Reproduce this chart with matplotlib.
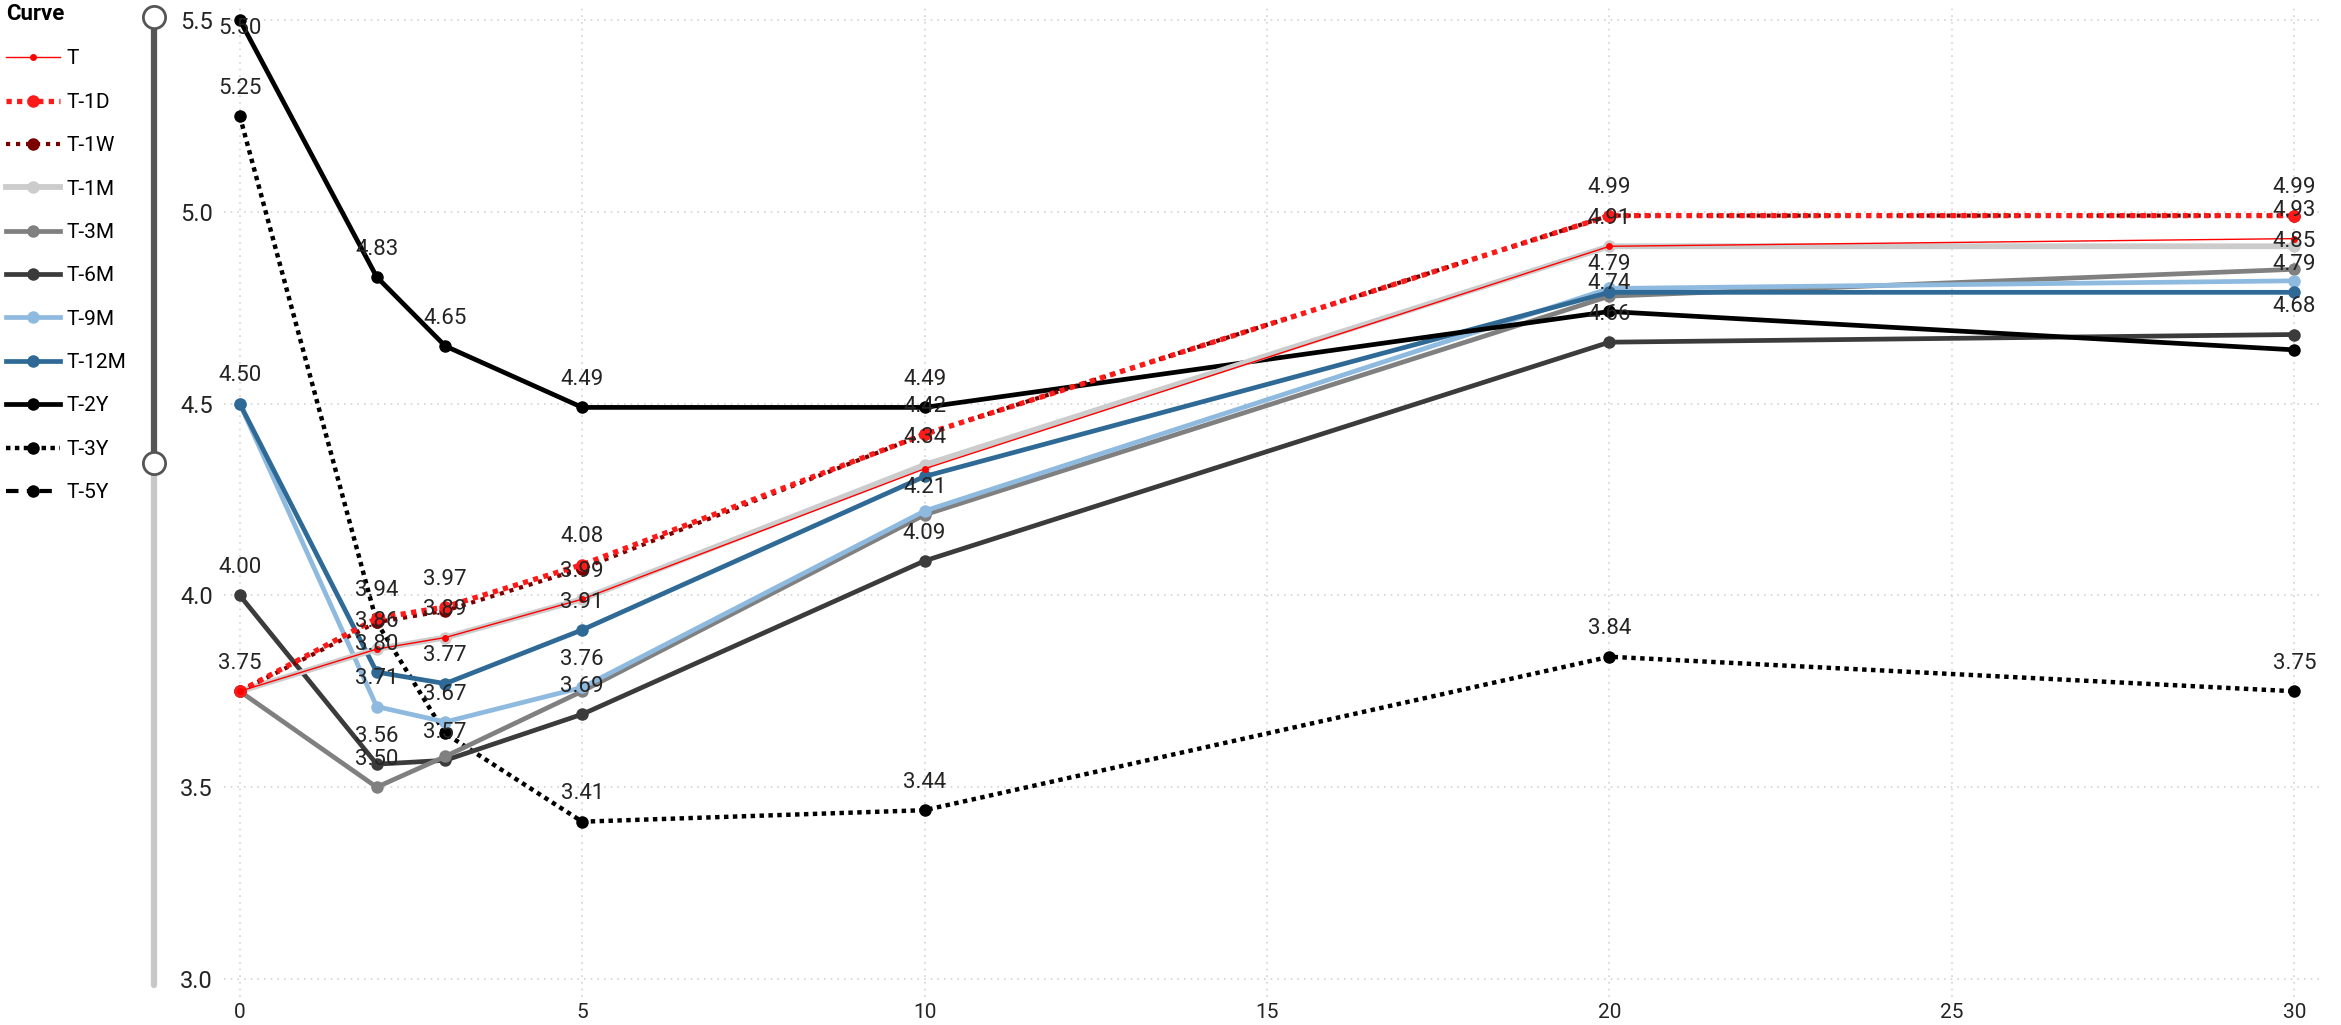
import numpy as np
import matplotlib.pyplot as plt

plt.rcParams['font.family'] = ['Roboto', 'DejaVu Sans']

# tenors (years) and yields per curve snapshot
tenor = [0, 2, 3, 5, 10, 20, 30]
curve_names = ['T', 'T-1D', 'T-1W', 'T-1M', 'T-3M', 'T-6M', 'T-9M', 'T-12M', 'T-2Y', 'T-3Y', 'T-5Y']

t_now = [3.75, 3.86, 3.89, 3.99, 4.33, 4.91, 4.93]
t_1d = [3.75, 3.94, 3.97, 4.08, 4.42, 4.99, 4.99]
t_1w = [3.75, 3.93, 3.96, 4.07, 4.42, 4.99, 4.99]
t_1m = [3.75, 3.86, 3.89, 3.99, 4.34, 4.91, 4.91]
t_3m = [3.75, 3.50, 3.58, 3.75, 4.21, 4.78, 4.85]
t_6m = [4.00, 3.56, 3.57, 3.69, 4.09, 4.66, 4.68]
t_9m = [4.50, 3.71, 3.67, 3.76, 4.22, 4.80, 4.82]
t_12m = [4.50, 3.80, 3.77, 3.91, 4.31, 4.79, 4.79]
t_2y = [5.50, 4.83, 4.65, 4.49, 4.49, 4.74, 4.64]
t_3y = [5.25, 3.93, 3.64, 3.41, 3.44, 3.84, 3.75]
t_5y = [np.nan] * 7  # in legend, no points drawn

series = [t_now, t_1d, t_1w, t_1m, t_3m, t_6m, t_9m, t_12m, t_2y, t_3y, t_5y]

# which data labels survive the overlap removal (by tenor)
shown_labels = {
    'T': [30],
    'T-1D': [2, 3, 5, 10, 20, 30],
    'T-1M': [0, 2, 3, 5, 10, 20],
    'T-3M': [2, 10, 30],
    'T-6M': [0, 2, 3, 5, 10, 20, 30],
    'T-9M': [2, 3, 5],
    'T-12M': [0, 2, 3, 5, 20, 30],
    'T-2Y': [0, 2, 3, 5, 10, 20],
    'T-3Y': [0, 5, 10, 20, 30],
}

# color, linestyle, linewidth, markersize, zorder
styles = {
    'T': ('#ff0000', '-', 1.0, 5, 12),
    'T-1D': ('#ff1a1a', (0, (1, 1)), 3.8, 9, 11),
    'T-1W': ('#7a0000', (0, (1, 1.4)), 3.0, 9, 10),
    'T-1M': ('#cccccc', '-', 4.2, 9, 9),
    'T-3M': ('#808080', '-', 3.4, 9, 5),
    'T-6M': ('#3b3b3b', '-', 3.4, 9, 4),
    'T-9M': ('#8fbadf', '-', 3.4, 9, 6),
    'T-12M': ('#2e6a95', '-', 3.4, 9, 7),
    'T-2Y': ('#000000', '-', 3.4, 9, 8),
    'T-3Y': ('#000000', (0, (1, 1)), 3.2, 9, 3),
    'T-5Y': ('#000000', (0, (3, 2, 1, 2)), 3.0, 9, 2),
}

W, H = 2341, 1025
fig = plt.figure(figsize=(W / 100, H / 100), dpi=100)
ax = fig.add_axes([224 / W, 28 / H, (2321 - 224) / W, 992 / H])

ytop = 5.539
handles = []
for name, ys in zip(curve_names, series):
    color, ls, lw, ms, z = styles[name]
    line, = ax.plot(tenor, ys, color=color, linestyle=ls, linewidth=lw,
                    marker='o', markersize=ms, markeredgewidth=0, zorder=z,
                    label=name)
    handles.append(line)
    for xv, yv in zip(tenor, ys):
        if xv in shown_labels.get(name, []):
            # labels go above the point unless they would leave the plot
            dy = 20 if yv < ytop - 0.06 else -6
            ax.annotate(f'{yv:.2f}', (xv, yv), xytext=(0, dy),
                        textcoords='offset points', ha='center', va='center',
                        fontsize=16, color='#252423', zorder=20)

ax.set_xlim(-0.23, 30.39)
ax.set_ylim(2.953, ytop)
ax.set_xticks([0, 5, 10, 15, 20, 25, 30])
ax.set_yticks([3.0, 3.5, 4.0, 4.5, 5.0, 5.5])
ax.set_yticklabels([f'{v:.1f}' for v in ax.get_yticks()])
ax.tick_params(length=0, colors='#252423')
ax.tick_params(axis='y', pad=8, labelsize=17)
ax.tick_params(axis='x', pad=4, labelsize=15)
for s in ax.spines.values():
    s.set_visible(False)
ax.grid(True, color='#d4d4d4', linestyle=(0, (1, 3)), linewidth=1.2, zorder=0)
ax.set_axisbelow(True)

# legend on the left
fig.legend(handles=handles, loc='upper left', bbox_to_anchor=(4 / W, 1 - 1 / H),
           frameon=False, title='Curve', alignment='left', fontsize=15,
           title_fontproperties={'weight': 'bold', 'size': 16},
           handlelength=2.6, handletextpad=0.3, labelspacing=1.17,
           borderaxespad=0, borderpad=0.1)

# y-range slider next to the axis
sl = fig.add_axes([0, 0, 1, 1], zorder=-1)
sl.set_xlim(0, W)
sl.set_ylim(H, 0)
sl.axis('off')
sl.plot([154, 154], [463, 985], color='#c8c8c8', linewidth=4.5, solid_capstyle='round')
sl.plot([154, 154], [17, 463], color='#555555', linewidth=4.5)
sl.plot([154, 154], [17, 463], linestyle='none', marker='o', markersize=16,
        markerfacecolor='white', markeredgecolor='#555555', markeredgewidth=2)

fig.savefig('out.png', dpi=100)
